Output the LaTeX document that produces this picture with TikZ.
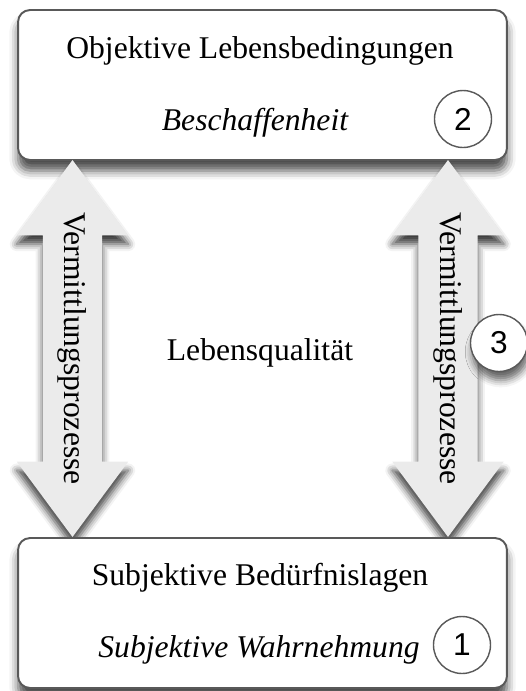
\documentclass[tikz,border=0pt]{standalone}
\usepackage{fontspec}
\setmainfont{Liberation Serif}
\newfontfamily\numfont{Liberation Sans}
\usetikzlibrary{shapes.arrows,shadows.blur}

\tikzset{
  mainbox/.style={draw=black!65, line width=1.1pt, rounded corners=0.24cm,
    fill=white, minimum width=9.78cm, minimum height=3cm,
    blur shadow={shadow xshift=0pt, shadow yshift=-6pt,
      shadow blur radius=5pt, shadow opacity=70}},
  numcirc/.style={circle, draw=black!65, line width=0.8pt, fill=white,
    minimum size=1.14cm, inner sep=0pt,
    font=\numfont\fontsize{18}{20}\selectfont},
  vermarrow/.style={double arrow, rotate=-90, fill=black!8,
    minimum height=7.54cm, inner ysep=0.3cm, inner xsep=0pt,
    double arrow head extend=0.52cm, double arrow tip angle=73,
    font=\fontsize{18}{22}\selectfont,
    blur shadow={shadow xshift=0pt, shadow yshift=-5pt,
      shadow blur radius=4pt, shadow opacity=75}},
  txt/.style={anchor=base, font=\fontsize{18}{22}\selectfont},
}

\begin{document}
\begin{tikzpicture}[x=0.02cm,y=-0.02cm]
  \useasboundingbox (0,0) rectangle (526,691);

  % top box
  \node[mainbox] (obj) at (262.5,85) {};
  \node[txt] (objtitle) at (260,58) {Objektive Lebensbedingungen};
  \node[txt] (objsub) at (255,130) {\itshape Beschaffenheit};
  \node[numcirc] (two) at (463,119) {2};

  % the two arrows
  \node[vermarrow] (larrow) at (72.5,348.5) {Vermittlungsprozesse};
  \node[vermarrow] (rarrow) at (448,348.5) {Vermittlungsprozesse};

  \node[txt] (lq) at (260,360) {Lebensqualität};
  \node[numcirc, blur shadow={shadow xshift=1pt, shadow yshift=-5pt,
      shadow blur radius=4pt, shadow opacity=60}] (three) at (499,343) {3};

  % bottom box
  \node[mainbox] (subj) at (262.5,613) {};
  \node[txt] (subjtitle) at (260,585) {Subjektive Bedürfnislagen};
  \node[txt] (subjsub) at (259,657) {\itshape Subjektive Wahrnehmung};
  \node[numcirc] (one) at (462,645) {1};
\end{tikzpicture}
\end{document}
